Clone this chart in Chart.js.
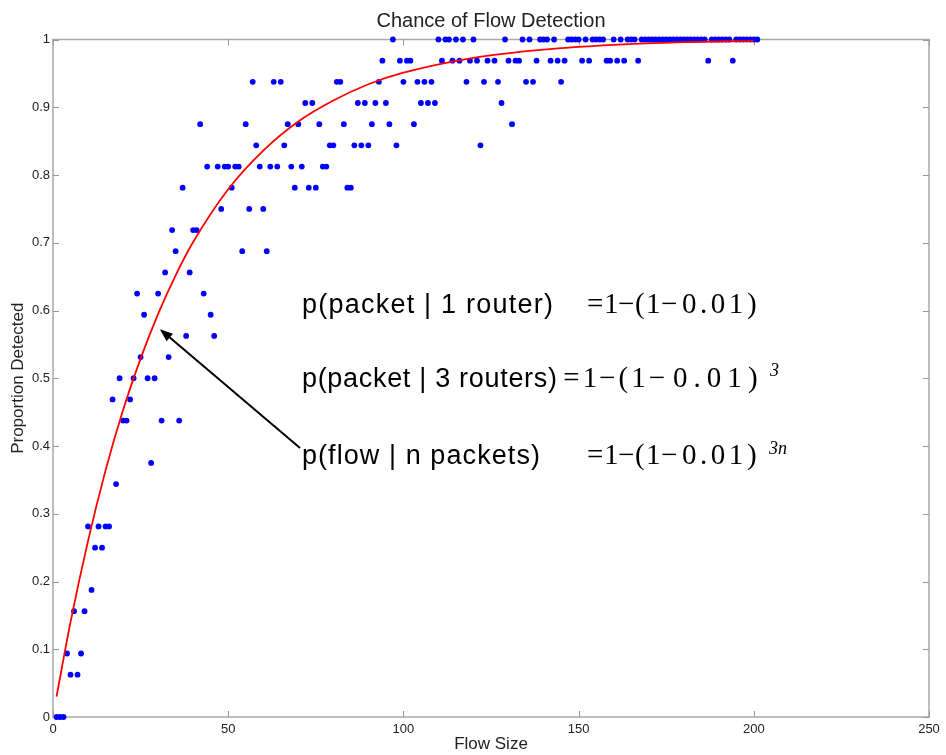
<!DOCTYPE html>
<html><head><meta charset="utf-8">
<script src="https://cdn.jsdelivr.net/npm/chart.js@4.4.1/dist/chart.umd.min.js"></script>
<style>html,body{margin:0;padding:0;background:#fff}#wrap{width:946px;height:755px}</style>
</head><body><div id="wrap"><canvas id="c" width="946" height="755"></canvas></div>
<script>
// ---- text ----
const titleText = 'Chance of Flow Detection';
const xTitle = 'Flow Size';
const yTitle = 'Proportion Detected';
const xTickLabels = ['0','50','100','150','200','250'];
const yTickLabels = ['0','0.1','0.2','0.3','0.4','0.5','0.6','0.7','0.8','0.9','1'];

// ---- observed points: proportion levels and the flow sizes seen at each level ----
const levels = [0, 0.0625, 0.09375, 0.15625, 0.1875, 0.25, 0.28125, 0.34375, 0.375, 0.4375,
  0.46875, 0.5, 0.53125, 0.5625, 0.59375, 0.625, 0.65625, 0.6875, 0.71875, 0.75,
  0.78125, 0.8125, 0.84375, 0.875, 0.90625, 0.9375, 0.96875, 1];
const sizesAtLevel = [
  [1,2,3],
  [5,7],
  [4,8],
  [6,9],
  [11],
  [12,14],
  [10,13,15,16],
  [18],
  [28],
  [20,21,31,36],
  [17,22],
  [19,23,27,29],
  [25,33],
  [38,46],
  [26,45],
  [24,30,43],
  [32,39],
  [35,54,61],
  [34,40,41],
  [48,56,60],
  [37,51,69,73,75,84,85],
  [44,47,49,50,52,53,59,62,64,68,71,77,78],
  [58,66,79,80,86,88,90,98,122],
  [42,55,67,70,76,83,91,96,103,131],
  [72,74,87,89,92,95,105,107,109,128],
  [57,63,65,81,82,93,100,104,106,108,118,123,127,135,137,145],
  [94,99,101,102,111,114,116,119,121,124,126,130,132,133,138,142,144,146,151,153,158,159,161,163,167,187,194],
  [97,110,112,113,115,117,120,129,134,136,139,140,141,143,147,148,149,150,152,154,155,156,157,160,162,164,165,166,
   168,169,170,171,172,173,174,175,176,177,178,179,180,181,182,183,184,185,186,188,189,190,191,192,193,
   195,196,197,198,199,200,201]
];

// ---- model curve ----
const curveX = [1, 5, 10, 15, 20, 25, 30, 35, 40, 50, 60, 70, 80, 90, 100, 120, 140, 160, 180, 200];
const curveY = [0.03, 0.14, 0.26, 0.364, 0.453, 0.529, 0.595, 0.652, 0.701, 0.779, 0.836, 0.879, 0.910, 0.934, 0.951, 0.973, 0.985, 0.992, 0.996, 0.998];

// ---- annotation text ----
const noteLabels = ['p(packet | 1 router)', 'p(packet | 3 routers)', 'p(flow | n packets)'];
const eqPieces = ['=', '1', '\u2212', '(', '1', '\u2212', '0.01', ')'];
const noteExponents = ['', '3', '3n'];

// annotation placement (data units / px offsets) and look
const noteLayout = {
  labelX: 71.05, labelWidths: [251, 255, 238],
  baselines: [0.596, 0.487, 0.373],
  eqX: [152.4, 145.6, 152.4],
  eqPieceOffsets: [0, 17, 31, 48, 59, 74, 95, 160],
  eqScale: [1, 1.155, 1],
  eqDigitSpacing: [3.5, 6, 3.5],
  expX: [0, 770, 769], expRise: [0, 11, 10],
  arrowFrom: [70.5, 0.397], arrowTo: [30.5, 0.5725]
};

const scatterPts = [];
levels.forEach((lv, i) => sizesAtLevel[i].forEach(s => scatterPts.push({x: s, y: lv})));
const curvePts = curveX.map((x, i) => ({x, y: curveY[i]}));

Chart.defaults.font.family = 'Arial, "Liberation Sans", Helvetica, sans-serif';

function fitText(ctx, text, x, y, width) {
  ctx.letterSpacing = '0px';
  const w0 = ctx.measureText(text).width;
  const n = [...text].length;
  const ls = n > 1 ? (width - w0) / (n - 1) : 0;
  ctx.letterSpacing = ls + 'px';
  ctx.fillText(text, x, y);
  ctx.letterSpacing = '0px';
}

const framePlugin = {
  id: 'frame',
  beforeDatasetsDraw(chart) {
    const {ctx, chartArea: a, scales: {x, y}} = chart;
    ctx.save();
    ctx.strokeStyle = '#a8a8a8';
    ctx.lineWidth = 1.5;
    ctx.strokeRect(a.left, a.top, a.right - a.left, a.bottom - a.top);
    ctx.lineWidth = 1;
    ctx.strokeStyle = '#999';
    const tl = 6;
    ctx.beginPath();
    x.ticks.forEach(t => {
      const px = Math.round(x.getPixelForValue(t.value)) + 0.5;
      ctx.moveTo(px, a.bottom); ctx.lineTo(px, a.bottom - tl);
      ctx.moveTo(px, a.top); ctx.lineTo(px, a.top + tl);
    });
    y.ticks.forEach(t => {
      const py = Math.round(y.getPixelForValue(t.value)) + 0.5;
      ctx.moveTo(a.left, py); ctx.lineTo(a.left + tl, py);
      ctx.moveTo(a.right, py); ctx.lineTo(a.right - tl, py);
    });
    ctx.stroke();
    // title centred over the plotting box
    ctx.fillStyle = '#222';
    ctx.font = '20px Arial, "Liberation Sans", sans-serif';
    ctx.textAlign = 'center';
    ctx.textBaseline = 'alphabetic';
    ctx.fillText(titleText, (a.left + a.right) / 2, 26.5);
    ctx.restore();
  },
  afterDraw(chart) {
    const {ctx, scales: {x, y}} = chart;
    const L = noteLayout;
    ctx.save();
    ctx.fillStyle = '#000';
    ctx.textBaseline = 'alphabetic';
    ctx.textAlign = 'left';
    noteLabels.forEach((t, i) => {
      const by = y.getPixelForValue(L.baselines[i]);
      ctx.font = '27px Arial, "Liberation Sans", sans-serif';
      fitText(ctx, t, x.getPixelForValue(L.labelX), by, L.labelWidths[i]);
      ctx.font = '29px "Times New Roman", "Liberation Serif", serif';
      const ex0 = x.getPixelForValue(L.eqX[i]);
      eqPieces.forEach((p, k) => {
        ctx.letterSpacing = p.length > 1 ? L.eqDigitSpacing[i] + 'px' : '0px';
        ctx.fillText(p, ex0 + L.eqPieceOffsets[k] * L.eqScale[i], by);
      });
      ctx.letterSpacing = '0px';
      if (noteExponents[i]) {
        ctx.font = 'italic 18px "Times New Roman", "Liberation Serif", serif';
        ctx.fillText(noteExponents[i], L.expX[i], by - L.expRise[i]);
      }
    });
    // arrow
    const x0 = x.getPixelForValue(L.arrowFrom[0]), y0 = y.getPixelForValue(L.arrowFrom[1]);
    const x1 = x.getPixelForValue(L.arrowTo[0]), y1 = y.getPixelForValue(L.arrowTo[1]);
    const ang = Math.atan2(y1 - y0, x1 - x0);
    const hl = 13, hw = 5;
    const bx = x1 - hl * Math.cos(ang), byy = y1 - hl * Math.sin(ang);
    ctx.strokeStyle = '#000';
    ctx.lineWidth = 2;
    ctx.beginPath(); ctx.moveTo(x0, y0); ctx.lineTo(bx, byy); ctx.stroke();
    ctx.beginPath();
    ctx.moveTo(x1, y1);
    ctx.lineTo(bx + hw * Math.sin(ang), byy - hw * Math.cos(ang));
    ctx.lineTo(bx - hw * Math.sin(ang), byy + hw * Math.cos(ang));
    ctx.closePath(); ctx.fill();
    ctx.restore();
  }
};

new Chart(document.getElementById('c'), {
  type: 'scatter',
  data: {
    datasets: [
      {label: 'observed', data: scatterPts, pointRadius: 2.9, pointBackgroundColor: '#0000ff',
       pointBorderWidth: 0, pointBorderColor: '#0000ff', showLine: false, clip: false, order: 2},
      {label: 'model', type: 'line', data: curvePts, borderColor: '#ff0000', borderWidth: 1.8,
       pointRadius: 0, fill: false, cubicInterpolationMode: 'monotone', order: 1}
    ]
  },
  plugins: [framePlugin],
  options: {
    responsive: false, animation: false, devicePixelRatio: 1,
    layout: {padding: {left: 0, right: 17, top: 39.5, bottom: 0}},
    plugins: {
      legend: {display: false}, tooltip: {enabled: false}, title: {display: false}
    },
    scales: {
      x: {type: 'linear', min: 0, max: 250,
          ticks: {stepSize: 50, autoSkip: false, maxRotation: 0, color: '#222', font: {size: 13}, padding: 5,
                  callback: (v, i) => xTickLabels[i]},
          grid: {display: false, drawTicks: false, tickLength: 0}, border: {display: false},
          title: {display: true, text: xTitle, color: '#222', font: {size: 17}, padding: {top: 0, bottom: 0}},
          afterFit: s => { s.height = 38; }},
      y: {type: 'linear', min: 0, max: 1,
          ticks: {stepSize: 0.1, autoSkip: false, color: '#222', font: {size: 13}, padding: 3,
                  callback: (v, i) => yTickLabels[i]},
          grid: {display: false, drawTicks: false, tickLength: 0}, border: {display: false},
          title: {display: true, text: yTitle, color: '#222', font: {size: 17}, padding: {top: 8, bottom: 0}},
          afterFit: s => { s.width = 53; }}
    }
  }
});
</script></body></html>
